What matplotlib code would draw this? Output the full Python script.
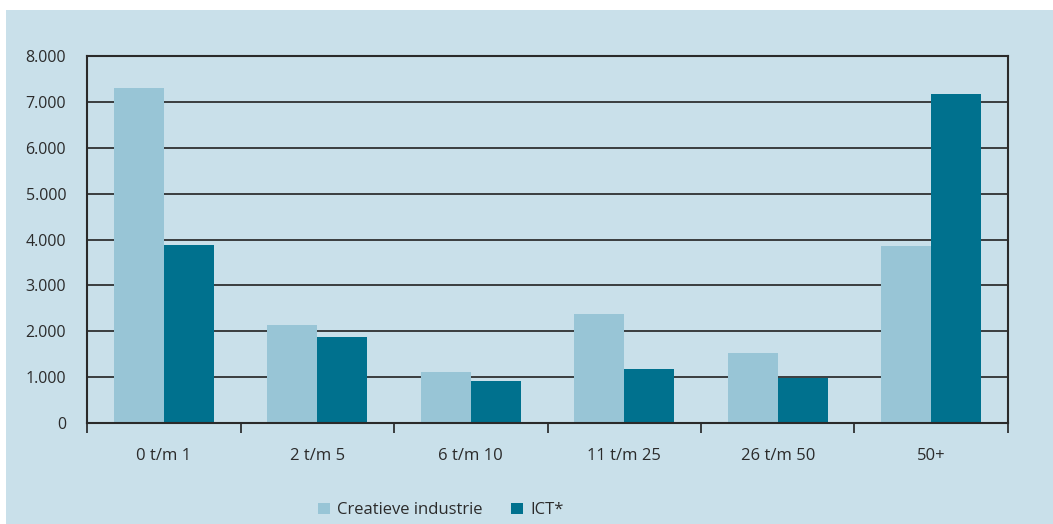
import matplotlib
matplotlib.use('Agg')
import matplotlib.pyplot as plt
import numpy as np
from matplotlib.patches import Rectangle

categories = ['0 t/m 1', '2 t/m 5', '6 t/m 10', '11 t/m 25', '26 t/m 50', '50+']
creatieve = [7300, 2140, 1110, 2380, 1530, 3860]
ict = [3890, 1880, 920, 1180, 980, 7170]
yticks = [0, 1000, 2000, 3000, 4000, 5000, 6000, 7000, 8000]
ylabels = ['0', '1.000', '2.000', '3.000', '4.000', '5.000', '6.000', '7.000', '8.000']

plt.rcParams['font.family'] = ['Open Sans', 'DejaVu Sans']
bg = '#c9e0ea'
txt = '#2b2b2b'

fig = plt.figure(figsize=(10.53, 5.24), dpi=100)
fig.patch.set_facecolor('white')
fig.patches.append(Rectangle((6 / 1053, 0), 1, 1 - 10 / 524, transform=fig.transFigure,
                             facecolor=bg, edgecolor='none', zorder=-10))

ax = fig.add_axes([87 / 1053, 1 - 423 / 524, (1008 - 87) / 1053, (423 - 56) / 524])
ax.set_facecolor(bg)

x = np.arange(len(categories))
w = 0.325
ax.bar(x - w / 2, creatieve, w, color='#98c5d6', label='Creatieve industrie', zorder=2)
ax.bar(x + w / 2, ict, w, color='#00718e', label='ICT*', zorder=2)

ax.set_xlim(-0.5, len(categories) - 0.5)
ax.set_ylim(0, 8000)
ax.set_yticks(yticks)
ax.set_yticklabels(ylabels)
ax.tick_params(axis='y', length=0, pad=15, labelsize=11.5, labelcolor=txt)
ax.set_xticks(x)
ax.set_xticklabels(categories)
ax.tick_params(axis='x', which='major', length=0, pad=18, labelsize=12, labelcolor=txt)
ax.set_xticks(np.arange(len(categories) + 1) - 0.5, minor=True)
ax.tick_params(axis='x', which='minor', length=7, width=1.2, color='#222222', direction='out')

ax.grid(axis='y', color='#222222', linewidth=1.2, zorder=1)
for s in ax.spines.values():
    s.set_color('#2a2a2a')
    s.set_linewidth(1.5)

leg = ax.legend(loc='upper center', bbox_to_anchor=(0.384, -0.175), ncol=2, frameon=False,
                fontsize=12, handlelength=0.7, handleheight=0.7, columnspacing=1.7,
                handletextpad=0.45, labelcolor=txt)

fig.savefig('out.png', dpi=100, facecolor=fig.get_facecolor())
